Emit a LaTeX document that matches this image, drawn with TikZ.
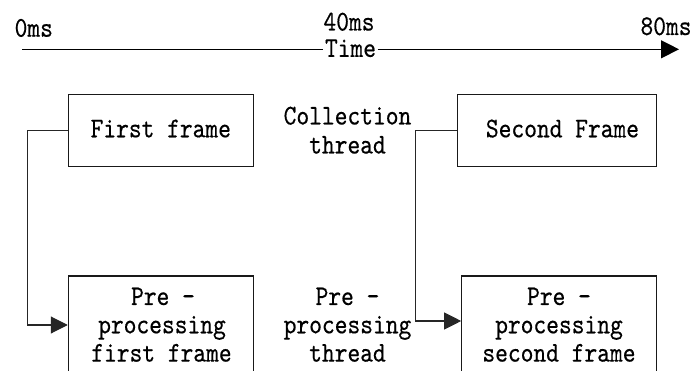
\documentclass[tikz,border=0pt]{standalone}
\usepackage{fontspec}
\newfontfamily\diagfont{lmmono10-regular.otf}[FakeStretch=0.85,FakeBold=0.4]
\usetikzlibrary{arrows.meta}
\begin{document}
\begin{tikzpicture}[x=1pt,y=-1pt,
  txt/.style={font=\diagfont\fontsize{28.6}{28.5}\selectfont, inner sep=0pt, anchor=base},
  framebox/.style={draw=black!90, line width=1.1pt, inner sep=0pt},
  link/.style={draw=black!85, line width=1.1pt, -{Triangle[length=17pt,width=17pt]}},
  axis/.style={draw=black, line width=1.3pt}]
\useasboundingbox (0,0) rectangle (693,371);
\clip (0,0) rectangle (693,371);

% time axis
\node[txt] (ms0)  at (33.8,36.7) {0ms};
\node[txt] (ms40) at (349,30.5)  {40ms};
\node[txt] (ms80) at (666,35)    {80ms};
\node[txt, inner xsep=1.5pt] (time) at (350.5,56.9) {Time};
\coordinate (t0) at (22,49.3);
\coordinate (t1) at (679,49.3);
\draw[axis] (t0) -- (t0 -| time.west);
\draw[axis, -{Triangle[length=18pt,width=18pt]}] (time.east |- t1) -- (t1);

% collection thread
\node[framebox, minimum width=185pt, minimum height=72pt] (f1) at (160.8,130.5) {};
\node[txt] (f1t) at (160.8,137.3) {First frame};
\node[framebox, minimum width=199pt, minimum height=72pt] (f2) at (556.8,130.5) {};
\node[txt] (f2t) at (562.5,137.3) {Second Frame};
\node[txt] (ct1) at (347.5,124.5) {Collection};
\node[txt] (ct2) at (347.5,153.5) {thread};

% pre-processing thread
\node[framebox, minimum width=185pt, minimum height=130pt, anchor=north] (p1) at (160.8,275.5) {};
\node[txt] (p1a) at (163,305)   {Pre –};
\node[txt] (p1b) at (162,333.3) {processing};
\node[txt] (p1c) at (161.5,361.6) {first frame};
\node[framebox, minimum width=194.5pt, minimum height=130pt, anchor=north] (p2) at (559,275.5) {};
\node[txt] (p2a) at (559,305)   {Pre –};
\node[txt] (p2b) at (559,333.3) {processing};
\node[txt] (p2c) at (559,361.6) {second frame};
\node[txt] (pt1) at (347.5,305)   {Pre –};
\node[txt] (pt2) at (347.5,333.3) {processing};
\node[txt] (pt3) at (347.5,361.6) {thread};

% hand-over from collection to pre-processing
\coordinate (a1) at (27.7,325);
\coordinate (a2) at (415.7,321);
\draw[link] (f1.west) -- (f1.west -| a1) -- (a1) -- (a1 -| p1.west);
\draw[link] (f2.west) -- (f2.west -| a2) -- (a2) -- (a2 -| p2.west);
\end{tikzpicture}
\end{document}
